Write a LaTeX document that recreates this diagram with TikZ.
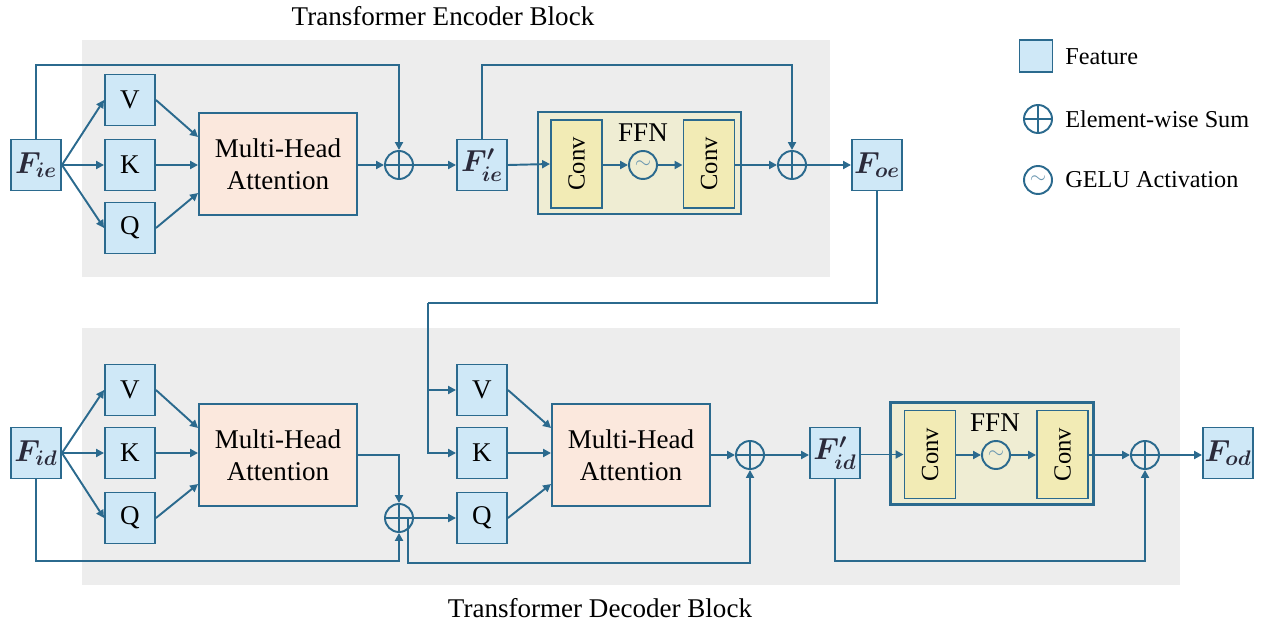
\documentclass[tikz,border=0pt]{standalone}
\usepackage{fontspec}
\setmainfont{Liberation Serif}
\usetikzlibrary{arrows.meta,calc}
\definecolor{lc}{HTML}{2B6A8E}
\definecolor{featc}{HTML}{CFE8F7}
\definecolor{bgc}{HTML}{EDEDED}
\definecolor{mhac}{HTML}{FBE8DD}
\definecolor{ffnc}{HTML}{EFEDD3}
\definecolor{convc}{HTML}{F2EBB5}
\definecolor{ftc}{HTML}{2A2A3A}
\begin{document}
\begin{tikzpicture}[x=0.02cm,y=-0.02cm,
  every node/.style={font=\fontsize{15.4}{18}\selectfont},
  feat/.style={draw=lc,fill=featc,line width=1.1pt,minimum width=1.0cm,minimum height=1.02cm,inner sep=0pt},
  flab/.style={feat,font=\fontsize{17}{18}\selectfont\boldmath,text=ftc},
  mha/.style={draw=lc,fill=mhac,line width=1.1pt,minimum width=3.16cm,minimum height=2.04cm,inner sep=0pt,align=center},
  ffn/.style={draw=lc,fill=ffnc,line width=1.5pt,minimum width=4.06cm,minimum height=2.04cm,inner sep=0pt},
  convbox/.style={draw=lc,fill=convc,line width=1.1pt,minimum width=1.02cm,minimum height=1.76cm,inner sep=0pt},
  convtxt/.style={rotate=90,font=\fontsize{14}{16}\selectfont},
  sumnode/.style={circle,draw=lc,line width=1.1pt,minimum size=0.56cm,inner sep=0pt,
    path picture={\draw[lc,line width=1.1pt] (path picture bounding box.north) -- (path picture bounding box.south)
      (path picture bounding box.west) -- (path picture bounding box.east);}},
  gelu/.style={circle,draw=lc,line width=1.1pt,minimum size=0.56cm,inner sep=0pt,text=lc!70,font=\fontsize{12}{12}\selectfont},
  arr/.style={draw=lc,line width=1.1pt,-{Triangle[length=4.5pt,width=4.5pt]}},
  ln/.style={draw=lc,line width=1.1pt},
  legtxt/.style={anchor=west,inner sep=0pt,font=\fontsize{13.8}{16}\selectfont}
]
\useasboundingbox (0,0) rectangle (1268,628);
% backgrounds
\fill[bgc] (82,40) rectangle (830,277);
\fill[bgc] (82,328) rectangle (1180,585);
\node (tenc) at (443,16) {Transformer Encoder Block};
\node (tdec) at (600,608) {Transformer Decoder Block};

% ===== Encoder =====
\node[flab] (fie) at (36,165) {$F_{ie}$};
\node[feat] (v1) at (130,100) {V};
\node[feat] (k1) at (130,165) {K};
\node[feat] (q1) at (130,228) {Q};
\node[mha] (mha1) at (278,164) {Multi-Head\\Attention};
\node[sumnode] (s1) at (399,165) {};
\node[flab] (fie2) at (482,165) {$F'_{ie}$};
\node[ffn] (ffn1) at (639.5,163) {};
\node[convbox] (conv1) at (576.5,164) {};
\node[convtxt] at (conv1) {Conv};
\node[gelu] (g1) at (643,165) {$\sim$};
\node[convbox] (conv2) at (709,164) {};
\node[convtxt] at (conv2) {Conv};
\node (ffnl1) at (643,133) {FFN};
\node[sumnode] (s2) at (792,165) {};
\node[flab] (foe) at (877,165) {$F_{oe}$};

\draw[arr] (fie.east) -- (v1.west);
\draw[arr] (fie.east) -- (k1.west);
\draw[arr] (fie.east) -- (q1.west);
\draw[arr] (v1.east) -- ($(mha1.west)+(0,-27)$);
\draw[arr] (k1.east) -- (k1.east -| mha1.west);
\draw[arr] (q1.east) -- ($(mha1.west)+(0,29)$);
\coordinate (t1) at (399,65);
\draw[arr] (fie.north) |- (t1) -- (s1.north);
\draw[arr] (mha1.east |- s1.west) -- (s1.west);
\draw[arr] (s1.east) -- (fie2.west);
\draw[arr] (fie2.east) -- (conv1.west);
\draw[arr] (conv1.east |- g1.west) -- (g1.west);
\draw[arr] (g1.east) -- (g1.east -| conv2.west);
\draw[arr] (conv2.east |- s2.west) -- (s2.west);
\draw[arr] (s2.east) -- (foe.west);
\coordinate (t2) at (792,65);
\draw[arr] (fie2.north) |- (t2) -- (s2.north);

% ===== Decoder =====
\node[flab] (fid) at (36,453) {$F_{id}$};
\node[feat] (v2) at (130,390) {V};
\node[feat] (k2) at (130,453) {K};
\node[feat] (q2) at (130,518) {Q};
\node[mha] (mha2) at (278,455) {Multi-Head\\Attention};
\node[sumnode] (s3) at (399,518) {};
\node[feat] (v3) at (482,390) {V};
\node[feat] (k3) at (482,453) {K};
\node[feat] (q3) at (482,518) {Q};
\node[mha] (mha3) at (631,455) {Multi-Head\\Attention};
\node[sumnode] (s4) at (750,455) {};
\node[flab] (fid2) at (835,453) {$F'_{id}$};
\node[ffn] (ffn2) at (992,453.5) {};
\node[convbox] (conv3) at (930,454.5) {};
\node[convtxt] at (conv3) {Conv};
\node[gelu] (g2) at (996,455) {$\sim$};
\node[convbox] (conv4) at (1062.5,454.5) {};
\node[convtxt] at (conv4) {Conv};
\node (ffnl2) at (995,423) {FFN};
\node[sumnode] (s5) at (1145,455) {};
\node[flab] (fod) at (1228,453) {$F_{od}$};

% encoder output to decoder
\coordinate (c1) at (877,303);
\coordinate (c2) at (428,303);
\draw[ln] (foe.south) -- (c1) -- (c2);
\draw[arr] (c2) |- (k3.west);
\draw[arr] (c2 |- v3.west) -- (v3.west);

\draw[arr] (fid.east) -- (v2.west);
\draw[arr] (fid.east) -- (k2.west);
\draw[arr] (fid.east) -- (q2.west);
\draw[arr] (v2.east) -- ($(mha2.west)+(0,-27)$);
\draw[arr] (k2.east) -- (k2.east -| mha2.west);
\draw[arr] (q2.east) -- ($(mha2.west)+(0,29)$);
\draw[arr] (mha2.east) -| (s3.north);
\coordinate (c3) at (399,561);
\draw[arr] (fid.south) |- (c3) -- (s3.south);
\draw[arr] (s3.east) -- (q3.west);
\coordinate (b1) at (408,518);
\coordinate (b2) at (750,563);
\draw[arr] (b1) |- (b2) -- (s4.south);

\draw[arr] (v3.east) -- ($(mha3.west)+(0,-27)$);
\draw[arr] (k3.east) -- (k3.east -| mha3.west);
\draw[arr] (q3.east) -- ($(mha3.west)+(0,29)$);
\draw[arr] (mha3.east |- s4.west) -- (s4.west);
\draw[arr] (s4.east) -- (s4.east -| fid2.west);
\draw[arr] (fid2.east |- conv3.west) -- (conv3.west);
\draw[arr] (conv3.east |- g2.west) -- (g2.west);
\draw[arr] (g2.east) -- (g2.east -| conv4.west);
\draw[arr] (conv4.east |- s5.west) -- (s5.west);
\draw[arr] (s5.east) -- (s5.east -| fod.west);
\coordinate (c4) at (1145,561);
\draw[arr] (fid2.south) |- (c4) -- (s5.south);

% ===== Legend =====
\node[feat,minimum width=0.66cm,minimum height=0.64cm] (lf) at (1036,56) {};
\node[legtxt] (lft) at (1065,57) {Feature};
\node[sumnode] (ls) at (1038,119) {};
\node[legtxt] (lst) at (1065,119) {Element-wise Sum};
\node[gelu] (lg) at (1038,180) {$\sim$};
\node[legtxt] (lgt) at (1065,180) {GELU Activation};
\end{tikzpicture}
\end{document}
